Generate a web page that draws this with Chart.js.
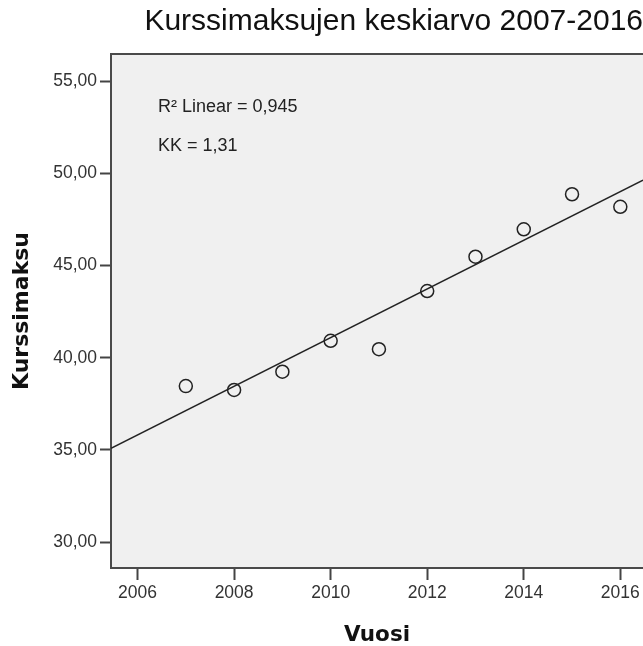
<!DOCTYPE html>
<html>
<head>
<meta charset="utf-8">
<script src="https://cdn.jsdelivr.net/npm/chart.js@4"></script>
<style>
  body { margin: 0; background: #fff; }
  #wrap { width: 643px; height: 646px; }
</style>
</head>
<body>
<div id="wrap"><canvas id="kurssimaksu" width="643" height="646"></canvas></div>
<script>
// vuodet ja kurssimaksujen keskiarvot
var vuodet = [2007, 2008, 2009, 2010, 2011, 2012, 2013, 2014, 2015, 2016];
var maksut = [38.46, 38.25, 39.24, 40.92, 40.46, 43.62, 45.48, 46.97, 48.87, 48.19];

// sovitettu suora (luettu kuvasta, reunasta reunaan)
var suoraX = [2005.45, 2016.47];
var suoraY = [35.08, 49.64];

// akselien jaot
var xJaot = [2006, 2008, 2010, 2012, 2014, 2016];
var yJaot = [30, 35, 40, 45, 50, 55];

var tekstit = ['R\u00b2 Linear = 0,945', 'KK = 1,31'];

var pisteet = vuodet.map(function (v, i) { return { x: v, y: maksut[i] }; });
var suora = suoraX.map(function (v, i) { return { x: v, y: suoraY[i] }; });

// taustan ja kehyksen piirto
var kehys = {
    id: 'kehys',
    beforeDatasetsDraw: function (chart) {
        var a = chart.chartArea, ctx = chart.ctx;
        ctx.save();
        ctx.fillStyle = '#f0f0f0';
        ctx.fillRect(a.left, a.top, a.right - a.left, a.bottom - a.top);
        ctx.strokeStyle = '#4a4a4a';
        ctx.lineWidth = 2;
        ctx.beginPath();
        ctx.moveTo(a.right + 5, a.top);
        ctx.lineTo(a.left, a.top);
        ctx.lineTo(a.left, a.bottom);
        ctx.lineTo(a.right + 5, a.bottom);
        ctx.stroke();
        ctx.restore();
    },
    afterDraw: function (chart) {
        var a = chart.chartArea, ctx = chart.ctx;
        ctx.save();
        ctx.fillStyle = '#222';
        ctx.font = '18px "Liberation Sans", Arial, sans-serif';
        ctx.textBaseline = 'alphabetic';
        ctx.fillText(tekstit[0], a.left + 47, a.top + 58);
        ctx.fillText(tekstit[1], a.left + 47, a.top + 97);
        ctx.restore();
    }
};

var ctx = document.getElementById('kurssimaksu').getContext('2d');
var chart = new Chart(ctx, {
    type: 'scatter',
    data: {
        datasets: [{
            label: 'Kurssimaksu',
            data: pisteet,
            pointStyle: 'circle',
            pointRadius: 6.5,
            pointBorderWidth: 1.5,
            pointBorderColor: '#222',
            pointBackgroundColor: 'rgba(0,0,0,0)'
        }, {
            label: 'Linear',
            data: suora,
            showLine: true,
            borderColor: '#222',
            borderWidth: 1.5,
            pointRadius: 0
        }]
    },
    options: {
        responsive: false,
        animation: false,
        layout: { padding: 0, autoPadding: false },
        plugins: {
            legend: { display: false },
            tooltip: { enabled: false },
            title: {
                display: true,
                text: 'Kurssimaksujen keskiarvo 2007-2016',
                align: 'end',
                color: '#111',
                font: { family: '"Liberation Sans", Arial, sans-serif', size: 30, weight: 'normal', lineHeight: 1.2 },
                padding: { top: 4, bottom: 14 }
            }
        },
        scales: {
            x: {
                type: 'linear',
                min: suoraX[0],
                max: suoraX[1],
                border: { display: false },
                grid: { drawOnChartArea: false, drawTicks: true, tickLength: 12, tickWidth: 2, tickColor: '#444' },
                ticks: {
                    color: '#333',
                    padding: 3,
                    maxRotation: 0,
                    font: { family: '"Liberation Sans", Arial, sans-serif', size: 17.5 },
                    callback: function (v) { return String(v); }
                },
                afterBuildTicks: function (scale) {
                    scale.ticks = xJaot.map(function (v) { return { value: v }; });
                },
                afterFit: function (scale) {
                    scale.height = 78;
                    scale.paddingLeft = 0;
                    scale.paddingRight = 0;
                },
                title: {
                    display: true,
                    text: 'Vuosi',
                    color: '#111',
                    font: { family: '"DejaVu Sans", sans-serif', size: 21.5, weight: 'bold', lineHeight: 1 },
                    padding: { top: 0, bottom: 0 }
                }
            },
            y: {
                type: 'linear',
                min: 28.59,
                max: 56.48,
                border: { display: false },
                grid: { drawOnChartArea: false, drawTicks: true, tickLength: 11, tickWidth: 2, tickColor: '#444' },
                ticks: {
                    color: '#333',
                    padding: 3,
                    font: { family: '"Liberation Sans", Arial, sans-serif', size: 17.5 },
                    callback: function (v) { return v.toFixed(2).replace('.', ','); }
                },
                afterBuildTicks: function (scale) {
                    scale.ticks = yJaot.map(function (v) { return { value: v }; });
                },
                afterFit: function (scale) {
                    scale.width = 111;
                    scale.paddingTop = 0;
                    scale.paddingBottom = 0;
                },
                title: {
                    display: true,
                    text: 'Kurssimaksu',
                    color: '#111',
                    font: { family: '"DejaVu Sans", sans-serif', size: 22, weight: 'bold', lineHeight: 1 },
                    padding: { top: 11, bottom: 0 }
                }
            }
        }
    },
    plugins: [kehys]
});
</script>
</body>
</html>
